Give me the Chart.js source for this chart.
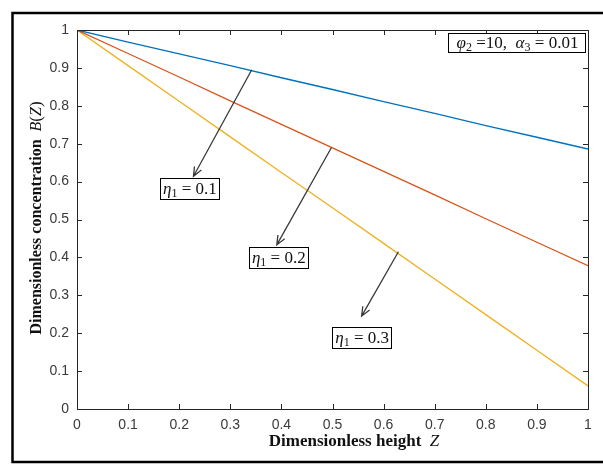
<!DOCTYPE html>
<html>
<head>
<meta charset="utf-8">
<title>Dimensionless concentration</title>
<script src="https://cdn.jsdelivr.net/npm/chart.js@4.4.1/dist/chart.umd.min.js"></script>
<style>
  html, body { margin: 0; padding: 0; background: #fff; }
  #wrap { width: 603px; height: 465px; position: relative; }
</style>
</head>
<body>
<div id="wrap"><canvas id="chart" width="603" height="465"></canvas></div>
<script>
// ---- data ----
const heightZ = [0, 0.1, 0.2, 0.3, 0.4, 0.5, 0.6, 0.7, 0.8, 0.9, 1];
const concEta01 = [1, 0.968, 0.937, 0.906, 0.874, 0.843, 0.811, 0.780, 0.748, 0.717, 0.686];
const concEta02 = [1, 0.938, 0.876, 0.813, 0.751, 0.689, 0.627, 0.565, 0.502, 0.440, 0.378];
const concEta03 = [1, 0.906, 0.812, 0.718, 0.624, 0.531, 0.437, 0.343, 0.249, 0.155, 0.061];
const etaLabels = ["0.1", "0.2", "0.3"];

// callouts in data units: arrow tail on the curve, arrow head, label centre
const callouts = [
  { label: etaLabels[0], tail: [0.342, 0.895], head: [0.228, 0.614], box: [0.219, 0.582] },
  { label: etaLabels[1], tail: [0.498, 0.690], head: [0.391, 0.433], box: [0.393, 0.402] },
  { label: etaLabels[2], tail: [0.629, 0.415], head: [0.557, 0.245], box: [0.556, 0.190] }
];

const AXIS_COLOR = "#262626";
const TICK_COLOR = "#3a3a3a";
const SERIF = "'Liberation Serif', 'Times New Roman', serif";
const SANS = "'Liberation Sans', Arial, sans-serif";

function toPoints(ys) {
  return heightZ.map((z, i) => ({ x: z, y: ys[i] }));
}

// MATLAB style tick text: 0, 0.1 ... 1
function tickText(v) {
  return String(Math.round(v * 10) / 10);
}

// draw a run of differently styled text pieces, centred on cx
function drawRuns(ctx, cx, y, runs) {
  let total = 0;
  runs.forEach(r => {
    ctx.font = r.font;
    r.w = ctx.measureText(r.t).width;
    total += r.w;
  });
  let x = cx - total / 2;
  ctx.textAlign = "left";
  runs.forEach(r => {
    ctx.font = r.font;
    ctx.fillText(r.t, x, y + (r.dy || 0));
    x += r.w;
  });
  return total;
}

function drawArrow(ctx, x1, y1, x2, y2) {
  const ang = Math.atan2(y2 - y1, x2 - x1);
  const len = 10;
  ctx.beginPath();
  ctx.moveTo(x1, y1);
  ctx.lineTo(x2, y2);
  ctx.moveTo(x2 - len * Math.cos(ang - 0.4), y2 - len * Math.sin(ang - 0.4));
  ctx.lineTo(x2, y2);
  ctx.lineTo(x2 - len * Math.cos(ang + 0.4), y2 - len * Math.sin(ang + 0.4));
  ctx.stroke();
}

const decorPlugin = {
  id: "decor",
  afterDraw(chart) {
    const ctx = chart.ctx;
    const a = chart.chartArea;
    const xs = chart.scales.x;
    const ys = chart.scales.y;
    ctx.save();

    // axes box with inward ticks on all sides
    ctx.strokeStyle = AXIS_COLOR;
    ctx.lineWidth = 1;
    ctx.strokeRect(Math.round(a.left) + 0.5, Math.round(a.top) + 0.5,
      Math.round(a.right - a.left), Math.round(a.bottom - a.top));
    ctx.beginPath();
    xs.ticks.forEach(t => {
      const px = Math.round(xs.getPixelForValue(t.value)) + 0.5;
      ctx.moveTo(px, a.bottom); ctx.lineTo(px, a.bottom - 5);
      ctx.moveTo(px, a.top); ctx.lineTo(px, a.top + 5);
    });
    ys.ticks.forEach(t => {
      const py = Math.round(ys.getPixelForValue(t.value)) + 0.5;
      ctx.moveTo(a.left, py); ctx.lineTo(a.left + 5, py);
      ctx.moveTo(a.right, py); ctx.lineTo(a.right - 5, py);
    });
    ctx.stroke();

    // arrows and eta labels
    ctx.strokeStyle = "#3a3a3a";
    ctx.lineWidth = 1.3;
    callouts.forEach(c => {
      drawArrow(ctx,
        xs.getPixelForValue(c.tail[0]), ys.getPixelForValue(c.tail[1]),
        xs.getPixelForValue(c.head[0]), ys.getPixelForValue(c.head[1]));
    });
    ctx.textBaseline = "alphabetic";
    callouts.forEach(c => {
      const cx = xs.getPixelForValue(c.box[0]);
      const cy = ys.getPixelForValue(c.box[1]);
      ctx.fillStyle = "#fff";
      ctx.fillRect(cx - 29, cy - 10, 59, 21);
      ctx.strokeStyle = "#000";
      ctx.lineWidth = 1;
      ctx.strokeRect(Math.round(cx - 29) + 0.5, Math.round(cy - 10) + 0.5, 59, 21);
      ctx.fillStyle = "#111";
      drawRuns(ctx, cx + 1, cy + 6, [
        { t: "\u03B7", font: "italic 17px " + SERIF },
        { t: "1", font: "12px " + SERIF, dy: 3 },
        { t: " = " + c.label, font: "17px " + SERIF }
      ]);
    });

    // parameter box, top right
    const bx = 448, by = 33, bw = 137, bh = 19;
    ctx.fillStyle = "#fff";
    ctx.fillRect(bx, by, bw, bh);
    ctx.strokeStyle = "#000";
    ctx.strokeRect(bx + 0.5, by + 0.5, bw, bh);
    ctx.fillStyle = "#111";
    drawRuns(ctx, bx + bw / 2 + 1, by + 15, [
      { t: "\u03C6", font: "italic 17px " + SERIF },
      { t: "2", font: "12px " + SERIF, dy: 3 },
      { t: " =10,  ", font: "17px " + SERIF },
      { t: "\u03B1", font: "italic 17px " + SERIF },
      { t: "3", font: "12px " + SERIF, dy: 3 },
      { t: " = 0.01", font: "17px " + SERIF }
    ]);

    // axis titles
    ctx.fillStyle = "#111";
    drawRuns(ctx, 354, 446, [
      { t: "Dimensionless height  ", font: "bold 17px " + SERIF },
      { t: "Z", font: "italic 17px " + SERIF }
    ]);
    ctx.save();
    ctx.translate(41, 218);
    ctx.rotate(-Math.PI / 2);
    drawRuns(ctx, 0, 0, [
      { t: "Dimensionless concentration  ", font: "bold 16px " + SERIF },
      { t: "B", font: "italic 16px " + SERIF },
      { t: "(", font: "17px " + SERIF },
      { t: "Z", font: "italic 16px " + SERIF },
      { t: ")", font: "17px " + SERIF }
    ]);
    ctx.restore();

    // panel letter, mostly above the frame
    ctx.font = "18px " + SERIF;
    ctx.textAlign = "center";
    ctx.fillText("(a)", 406, -4);

    // outer figure frame
    ctx.strokeStyle = "#000";
    ctx.lineWidth = 2.5;
    ctx.strokeRect(12.5, 13, 640, 449);

    ctx.restore();
  }
};

new Chart(document.getElementById("chart"), {
  type: "line",
  data: {
    datasets: [
      { label: "eta1 = 0.1", data: toPoints(concEta01), borderColor: "#0072BD" },
      { label: "eta1 = 0.2", data: toPoints(concEta02), borderColor: "#D95319" },
      { label: "eta1 = 0.3", data: toPoints(concEta03), borderColor: "#EDB120" }
    ]
  },
  options: {
    responsive: false,
    animation: false,
    events: [],
    layout: { padding: { left: 0, top: 30, right: 15, bottom: 0 } },
    elements: {
      line: { borderWidth: 1.3, tension: 0, fill: false },
      point: { radius: 0 }
    },
    plugins: {
      legend: { display: false },
      tooltip: { enabled: false }
    },
    scales: {
      x: {
        type: "linear",
        min: 0,
        max: 1,
        grid: { display: false, drawTicks: false },
        border: { display: false },
        ticks: {
          stepSize: 0.1,
          padding: 8,
          color: TICK_COLOR,
          maxRotation: 0,
          font: { family: SANS, size: 14 },
          callback: tickText
        },
        afterFit(scale) { scale.height = 56; }
      },
      y: {
        type: "linear",
        min: 0,
        max: 1,
        grid: { display: false, drawTicks: false },
        border: { display: false },
        ticks: {
          stepSize: 0.1,
          padding: 8,
          color: TICK_COLOR,
          font: { family: SANS, size: 14 },
          callback: tickText
        },
        afterFit(scale) { scale.width = 77; }
      }
    }
  },
  plugins: [decorPlugin]
});
</script>
</body>
</html>
